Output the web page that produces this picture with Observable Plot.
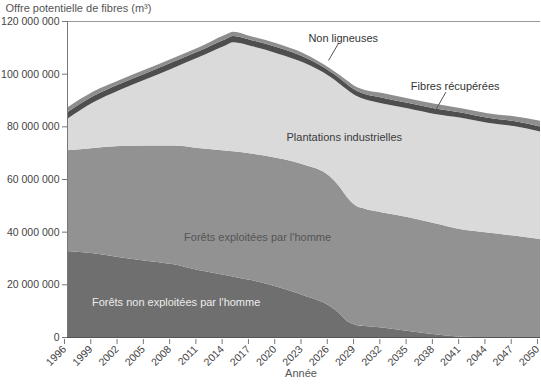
<!DOCTYPE html>
<html>
<head>
<meta charset="utf-8">
<script src="https://cdn.jsdelivr.net/npm/d3@7"></script>
<script src="https://cdn.jsdelivr.net/npm/@observablehq/plot@0.6"></script>
<style>
  html, body { margin: 0; padding: 0; background: #fff; }
  svg { display: block; }
</style>
</head>
<body>
<div id="chart"></div>
<script>
// Values in millions of m³
const years = [1996,1999,2002,2005,2008,2011,2014,2015,2017,2020,2023,2026,2027,2028,2029,2030,2032,2035,2038,2041,2044,2047,2050];
const nonExploitees = [32.7,31.8,30.3,29.0,27.7,25.4,23.5,22.9,21.6,19.1,15.9,11.8,9.3,6.0,4.6,4.2,3.6,2.3,1.0,0.1,0,0,0];
const exploitees = [38.2,40.0,42.2,43.7,45.0,46.4,47.3,47.6,48.1,48.9,49.6,49.2,48.2,47.0,45.2,44.5,43.7,43.2,42.2,40.8,39.7,38.5,37.2];
const plantations = [11.9,17.3,21.3,25.2,29.3,34.4,39.8,41.4,40.8,39.7,38.7,37.9,39.0,40.9,41.8,41.6,41.4,41.3,41.5,42.4,41.7,41.6,40.8];
const fibres = [2.5,2.4,2.3,2.3,2.3,2.3,2.4,2.4,2.3,2.3,2.2,2.0,2.0,2.0,2.0,2.0,2.2,2.1,2.1,2.0,1.9,1.9,1.9];
const nonLigneuses = [1.8,1.7,1.5,1.5,1.5,1.4,1.7,1.6,1.4,1.5,1.4,1.2,1.3,1.4,1.4,1.5,1.8,1.7,1.8,1.6,1.7,1.8,2.2];

const seriesNames = ["Forêts non exploitées par l'homme", "Forêts exploitées par l'homme", "Plantations industrielles", "Fibres récupérées", "Non ligneuses"];
const seriesColors = ["#6f6f6f", "#929292", "#dadada", "#4e4e4e", "#8e8e8e"];
const seriesValues = [nonExploitees, exploitees, plantations, fibres, nonLigneuses];

const xTicks = [1996,1999,2002,2005,2008,2011,2014,2017,2020,2023,2026,2029,2032,2035,2038,2041,2044,2047,2050];
const yTicks = [0,20,40,60,80,100,120];

// Annotation labels (year, value in millions)
const labelTexts = ["Plantations industrielles", "Forêts exploitées par l'homme", "Forêts non exploitées par l'homme"];
const labelYears = [2027.6, 2017.7, 2008.4];
const labelValues = [76, 38, 13.3];
const labelColors = ["#3a3a3a", "#555555", "#ececec"];

const calloutTexts = ["Non ligneuses", "Fibres récupérées"];
const calloutYears = [2023.5, 2035.2];
const calloutValues = [113.6, 95.5];
const leaderFromYears = [2026.9, 2039.2];
const leaderFromValues = [111.5, 93.2];
const leaderToYears = [2025.8, 2037.8];
const leaderToValues = [105.2, 85.0];

const data = [];
seriesNames.forEach((name, s) => {
  years.forEach((yr, i) => data.push({year: yr, value: seriesValues[s][i], series: name}));
});
const labels = labelTexts.map((t, i) => ({text: t, x: labelYears[i], y: labelValues[i], c: labelColors[i]}));
const callouts = calloutTexts.map((t, i) => ({text: t, x: calloutYears[i], y: calloutValues[i],
  x1: leaderFromYears[i], y1: leaderFromValues[i], x2: leaderToYears[i], y2: leaderToValues[i]}));

const fmt = d => d3.format(",")(d * 1e6).replace(/,/g, " ");

const chart = Plot.plot({
  width: 541,
  height: 384,
  marginLeft: 67,
  marginRight: 1,
  marginTop: 21,
  marginBottom: 47,
  style: {fontFamily: "'Liberation Sans', Arial, sans-serif", fontSize: "10.5px", color: "#444", background: "#fff"},
  x: {domain: [1996, 2050]},
  y: {domain: [0, 120]},
  color: {domain: seriesNames, range: seriesColors},
  marks: [
    Plot.areaY(data, {x: "year", y: "value", z: "series", fill: "series", curve: "monotone-x", order: seriesNames}),
    Plot.ruleY([120], {stroke: "#999", strokeWidth: 1}),
    Plot.ruleY([0], {stroke: "#555"}),
    Plot.ruleX([1996], {stroke: "#777"}),
    Plot.axisY({ticks: yTicks, tickFormat: fmt, tickSize: 5, tickPadding: 3, label: null, stroke: "#777"}),
    Plot.axisX({ticks: xTicks, tickFormat: d => String(d), tickRotate: -45, tickSize: 5, tickPadding: 3, label: null, stroke: "#777", fontSize: 10.5, dx: -3, dy: 2}),
    Plot.text(labels, {x: "x", y: "y", text: "text", fill: "c", fontSize: 11}),
    Plot.link(callouts, {x1: "x1", y1: "y1", x2: "x2", y2: "y2", stroke: "#555", strokeWidth: 1}),
    Plot.text(callouts, {x: "x", y: "y", text: "text", textAnchor: "start", fill: "#333", fontSize: 11}),
    Plot.text(["Année"], {frameAnchor: "bottom", dy: 39, dx: -3, fill: "#555", fontSize: 11}),
    Plot.text(["Offre potentielle de fibres (m³)"], {frameAnchor: "top-left", textAnchor: "start", lineAnchor: "middle", dx: -62, dy: -13, fill: "#555", fontSize: 11})
  ]
});
document.getElementById("chart").appendChild(chart);
</script>
</body>
</html>
